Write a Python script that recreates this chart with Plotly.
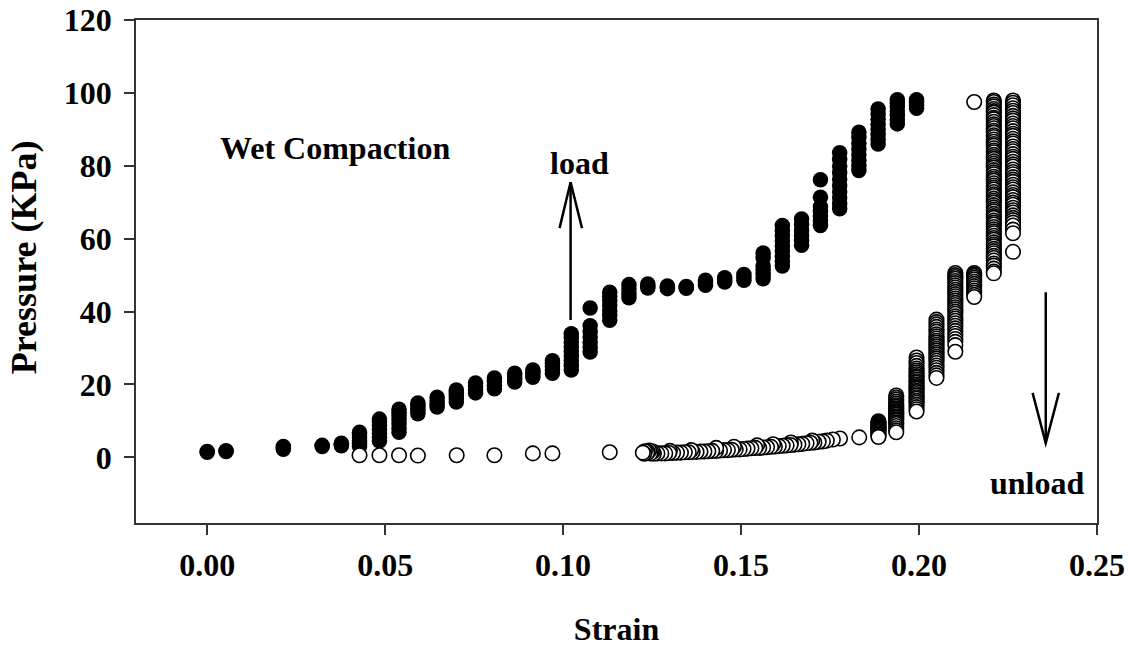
import plotly.graph_objects as go

# ---- data (strain steps and pressure readings, KPa) ----
load_strain = [0.0000, 0.0053, 0.0214, 0.0323, 0.0377, 0.0428, 0.0484, 0.0539,
               0.0592, 0.0646, 0.0700, 0.0754, 0.0807, 0.0864, 0.0915, 0.0970,
               0.1023, 0.1076, 0.1131, 0.1185, 0.1238, 0.1293, 0.1346, 0.1400,
               0.1454, 0.1508, 0.1562, 0.1616, 0.1670, 0.1723, 0.1777, 0.1831,
               0.1885, 0.1939, 0.1993]
load_pressure = [
    [1.4, 1.6],
    [1.6, 1.8],
    [2.2, 2.6, 3.0],
    [3.0, 3.3],
    [3.2, 3.6, 3.9],
    [3.0, 3.8, 4.6, 5.4, 6.2, 6.9],
    [4.5, 5.5, 6.6, 7.7, 8.8, 9.8, 10.5],
    [6.9, 8.0, 9.2, 10.3, 11.4, 12.4, 13.2],
    [12.0, 12.8, 13.6, 14.3, 14.9],
    [13.8, 14.6, 15.5, 16.5],
    [15.2, 16.1, 17.0, 17.8, 18.5],
    [17.7, 18.5, 19.4, 20.4],
    [18.8, 19.8, 20.8, 21.8],
    [20.7, 21.5, 22.3, 23.1],
    [22.0, 22.7, 23.4, 24.0],
    [23.1, 24.0, 24.9, 25.8, 26.5],
    [24.0, 25.2, 26.5, 27.8, 29.0, 30.3, 31.6, 32.8, 33.9],
    [28.9, 30.2, 31.6, 33.0, 34.5, 36.1, 41.0],
    [37.6, 38.9, 40.2, 41.6, 43.0, 44.2, 45.3],
    [43.8, 44.9, 46.2, 47.4],
    [46.5, 47.0, 47.6],
    [46.3, 46.7, 47.0],
    [46.4, 46.6, 46.9],
    [47.2, 47.9, 48.6],
    [48.1, 48.7, 49.3],
    [48.6, 49.4, 50.2],
    [49.0, 50.2, 51.4, 52.5, 54.8, 56.1],
    [52.5, 53.8, 55.2, 56.6, 58.0, 59.4, 60.8, 62.2, 63.6],
    [58.2, 59.5, 60.8, 62.2, 63.8, 65.4],
    [63.6, 64.9, 66.2, 67.5, 68.8, 71.4, 76.2],
    [68.2, 69.6, 71.2, 72.8, 74.5, 76.3, 78.1, 79.9, 81.7, 83.6],
    [78.7, 80.0, 81.5, 83.0, 84.6, 86.2, 87.8, 89.2],
    [86.0, 87.3, 88.6, 90.0, 91.4, 92.8, 94.2, 95.6],
    [91.5, 92.6, 93.8, 95.0, 96.2, 97.2, 98.1],
    [95.8, 96.6, 97.4, 98.1],
]

unload_strain = [0.2264, 0.2210, 0.2155, 0.2102, 0.2049, 0.1993, 0.1936, 0.1886,
                 0.1832, 0.1778]
unload_pressure = [
    [97.9, 97.3, 96.6, 95.8, 95.1, 94.5, 93.7, 93.0, 92.4, 91.6, 90.9, 90.3,
     89.5, 88.8, 88.2, 87.4, 86.7, 86.1, 85.3, 84.6, 84.0, 83.2, 82.5, 81.9,
     81.1, 80.4, 79.8, 79.0, 78.3, 77.7, 76.9, 76.2, 75.6, 74.8, 74.1, 73.5,
     72.7, 72.0, 71.4, 70.6, 69.9, 69.3, 68.5, 67.8, 67.2, 66.4, 65.7, 65.1,
     64.4, 63.6, 62.5, 61.5, 56.4],
    [97.9, 97.5, 96.8, 96.3, 95.6, 95.0, 94.6, 93.9, 93.2, 92.8, 92.1, 91.4,
     90.9, 90.3, 89.6, 89.1, 88.4, 87.9, 87.2, 86.6, 86.0, 85.5, 84.8, 84.2,
     83.7, 83.0, 82.4, 81.9, 81.2, 80.6, 80.0, 79.5, 78.8, 78.2, 77.7, 77.0,
     76.4, 75.9, 75.2, 74.6, 74.0, 73.5, 72.8, 72.2, 71.7, 71.0, 70.4, 69.9,
     69.2, 68.6, 68.0, 67.5, 66.8, 66.2, 65.7, 65.0, 64.4, 63.9, 63.2, 62.6,
     62.0, 61.5, 60.8, 60.2, 59.7, 59.0, 58.4, 57.9, 57.2, 56.6, 56.0, 55.3,
     54.7, 54.0, 53.2, 52.6, 51.8, 51.0, 50.5],
    [97.5, 50.6, 50.2, 49.8, 49.3, 48.8, 48.2, 47.6, 47.0, 46.4, 45.8, 45.2,
     44.6, 44.0],
    [50.6, 50.0, 49.5, 49.0, 48.4, 47.8, 47.2, 46.6, 46.0, 45.4, 44.8, 44.2,
     43.6, 43.0, 42.4, 41.8, 41.2, 40.6, 40.0, 39.4, 38.7, 38.1, 37.5, 36.8,
     36.1, 35.4, 34.7, 34.0, 33.3, 32.5, 31.7, 30.8, 29.0],
    [37.8, 37.1, 36.5, 35.8, 35.1, 34.5, 33.8, 33.2, 32.6, 32.0, 31.5, 30.9,
     30.4, 29.8, 29.3, 28.7, 28.2, 27.6, 27.1, 26.5, 25.9, 25.2, 24.6, 23.9,
     23.2, 22.5, 21.8],
    [27.4, 26.6, 25.9, 25.1, 24.4, 23.8, 23.3, 22.8, 22.3, 21.9, 21.4, 20.9,
     20.5, 20.0, 19.6, 19.2, 18.8, 18.3, 17.9, 17.4, 17.0, 16.5, 16.1, 15.5,
     15.0, 14.4, 13.8, 13.2, 12.6],
    [17.0, 16.4, 15.9, 15.3, 14.8, 14.3, 13.9, 13.5, 13.1, 12.7, 12.4, 12.0,
     11.7, 11.3, 10.9, 10.5, 10.1, 9.6, 9.2, 8.6, 8.0, 7.4, 6.9],
    [9.9, 9.6, 9.4, 9.1, 8.8, 8.5, 8.2, 7.9, 7.6, 7.3, 7.0, 6.6, 6.3, 5.9, 5.6],
    [5.5],
    [5.2],
]

# tail of the unloading branch (one reading per strain value)
tail_strain = [0.1758, 0.1741, 0.1730, 0.1718, 0.1706, 0.1695, 0.1684, 0.1672,
               0.1661, 0.1650, 0.1639, 0.1628, 0.1617, 0.1606, 0.1595, 0.1584,
               0.1573, 0.1562, 0.1551, 0.1540, 0.1529, 0.1518, 0.1507, 0.1496,
               0.1485, 0.1474, 0.1463, 0.1452, 0.1441, 0.1430, 0.1419, 0.1408,
               0.1397, 0.1386, 0.1375, 0.1364, 0.1353, 0.1342, 0.1331, 0.1320,
               0.1309, 0.1298, 0.1287, 0.1276, 0.1265, 0.1255, 0.1248, 0.1242,
               0.1236, 0.1230, 0.1224,
               0.1700, 0.1640, 0.1590, 0.1545, 0.1480, 0.1430, 0.1360, 0.1300,
               0.1252, 0.1245, 0.1238, 0.1228,
               0.1131, 0.0970, 0.0915, 0.0807, 0.0701, 0.0592, 0.0539, 0.0484,
               0.0428]
tail_pressure = [4.9, 4.6, 4.4, 4.3, 4.1, 4.0, 3.9, 3.7, 3.6, 3.5, 3.4, 3.3,
                 3.2, 3.1, 3.0, 2.9, 2.8, 2.7, 2.6, 2.6, 2.5, 2.4, 2.3, 2.2,
                 2.2, 2.1, 2.0, 2.0, 1.9, 1.8, 1.8, 1.7, 1.6, 1.6, 1.5, 1.5,
                 1.4, 1.4, 1.3, 1.3, 1.2, 1.2, 1.1, 1.1, 1.1, 1.0, 1.4, 1.9,
                 1.2, 1.7, 1.3,
                 4.6, 4.1, 3.6, 3.3, 2.9, 2.6, 2.0, 1.8,
                 1.6, 1.1, 1.5, 1.0,
                 1.4, 1.1, 1.1, 0.6, 0.6, 0.5, 0.6, 0.6, 0.6]

x_ticks = [0.00, 0.05, 0.10, 0.15, 0.20, 0.25]
x_tick_text = ["0.00", "0.05", "0.10", "0.15", "0.20", "0.25"]
y_ticks = [0, 20, 40, 60, 80, 100, 120]
y_tick_text = ["0", "20", "40", "60", "80", "100", "120"]

# ---- flatten (unloading drawn in order of decreasing strain) ----
lx, ly = [], []
for s, ps in zip(load_strain, load_pressure):
    for p in ps:
        lx.append(s)
        ly.append(p)
ux, uy = [], []
for s, ps in zip(unload_strain, unload_pressure):
    for p in ps:
        ux.append(s)
        uy.append(p)
tail = sorted(zip(tail_strain, tail_pressure), key=lambda t: -t[0])
ux += [t[0] for t in tail]
uy += [t[1] for t in tail]

FONT = "Liberation Serif"
fig = go.Figure()
fig.add_trace(go.Scatter(
    x=lx, y=ly, mode="markers", name="load",
    marker=dict(symbol="circle", size=15.5, color="black",
                line=dict(width=0)),
    showlegend=False))
fig.add_trace(go.Scatter(
    x=ux, y=uy, mode="markers", name="unload",
    marker=dict(symbol="circle", size=14.5, color="white",
                line=dict(width=1.6, color="black")),
    showlegend=False))

# arrows (line shapes)
arrow_style = dict(color="black", width=2.5)
arrows = [
    ((0.1021, 37.7), (0.1021, 75.5), (0.0990, 62.9), (0.1053, 62.9)),
    ((0.2356, 45.3), (0.2356, 3.9), (0.2319, 17.7), (0.2393, 17.7)),
]
for base, tip, left, right in arrows:
    fig.add_shape(type="line", x0=base[0], y0=base[1], x1=tip[0], y1=tip[1],
                  xref="x", yref="y", line=arrow_style)
    fig.add_shape(type="path",
                  path=f"M {left[0]},{left[1]} L {tip[0]},{tip[1]} L {right[0]},{right[1]}",
                  xref="x", yref="y", line=arrow_style)

txt = dict(family=FONT, size=32, color="black", weight="bold")
fig.add_annotation(x=0.0358, y=84.9, text="Wet Compaction", showarrow=False,
                   font=txt, xref="x", yref="y")
fig.add_annotation(x=0.1046, y=80.7, text="load", showarrow=False,
                   font=txt, xref="x", yref="y")
fig.add_annotation(x=0.2331, y=-7.1, text="unload", showarrow=False,
                   font=txt, xref="x", yref="y")
# y-axis title (placed as in the reference, slightly above the axis centre)
fig.add_annotation(x=-0.1165, y=0.5285, xref="paper", yref="paper",
                   text="Pressure (KPa)", textangle=-90, showarrow=False,
                   xanchor="center", yanchor="middle",
                   font=dict(family=FONT, size=36, color="black", weight="bold"))

axis_common = dict(
    showline=True, linecolor="#333333", linewidth=1.5, mirror=True,
    ticks="outside", ticklen=10, tickwidth=1.5, tickcolor="#333333",
    showgrid=False, zeroline=False, automargin=False,
    tickfont=dict(family=FONT, size=32, color="black", weight="bold"),
)
fig.update_xaxes(range=[-0.02, 0.25], tickvals=x_ticks, ticktext=x_tick_text,
                 title=dict(text="Strain", standoff=36,
                            font=dict(family=FONT, size=32, color="black", weight="bold")),
                 ticklabelstandoff=3,
                 **axis_common)
fig.update_yaxes(range=[-18, 120], tickvals=y_ticks, ticktext=y_tick_text,
                 ticklabelstandoff=6,
                 **axis_common)
fig.update_layout(
    width=1133, height=647,
    margin=dict(l=136, r=36, t=20, b=124),
    plot_bgcolor="white", paper_bgcolor="white",
)
fig.write_html("out.html",
               config={"displayModeBar": False},
               post_script="document.body.style.margin='0';document.body.style.overflow='hidden';")
